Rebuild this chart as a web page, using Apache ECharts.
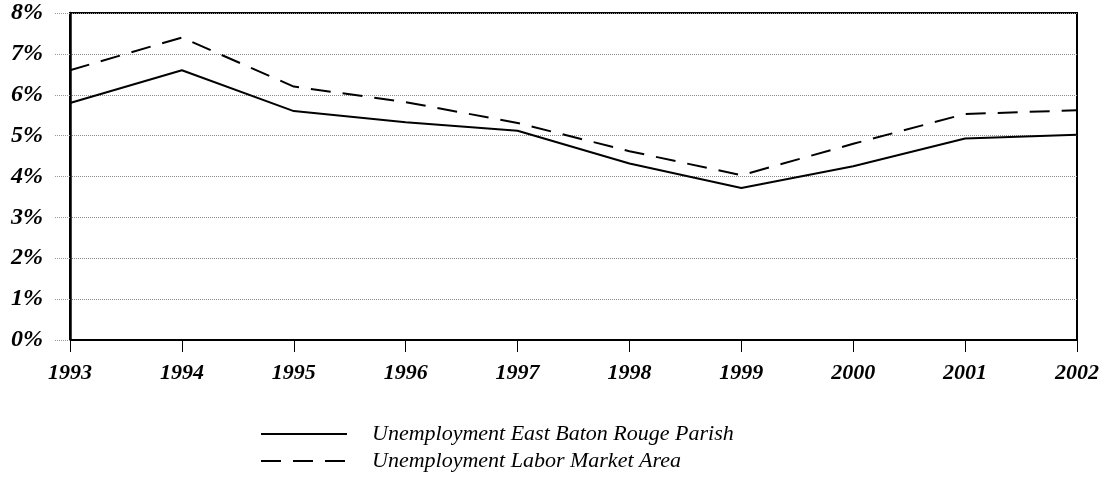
<!DOCTYPE html>
<html><head><meta charset="utf-8">
<script src="https://cdn.jsdelivr.net/npm/echarts@6/dist/echarts.min.js"></script>
<style>html,body{margin:0;padding:0;background:#fff}#c{width:1107px;height:483px}</style>
</head><body><div id="c"></div>
<script>
const years = ['1993','1994','1995','1996','1997','1998','1999','2000','2001','2002'];
const parish = [5.8, 6.6, 5.6, 5.33, 5.12, 4.32, 3.72, 4.25, 4.93, 5.02];
const labor = [6.6, 7.4, 6.2, 5.82, 5.31, 4.62, 4.03, 4.8, 5.53, 5.62];
const yTicks = [0,1,2,3,4,5,6,7,8];
const seriesNames = ['Unemployment East Baton Rouge Parish', 'Unemployment Labor Market Area'];

const chart = echarts.init(document.getElementById('c'));
const serif = '"Liberation Serif", "DejaVu Serif", serif';
chart.setOption({
  animation: false,
  backgroundColor: '#fff',
  grid: {left: 70, right: 30, top: 13, bottom: 143, show: true, borderColor: '#000', borderWidth: 2},
  xAxis: {
    type: 'category', data: years, boundaryGap: false,
    axisLine: {lineStyle: {color: '#000', width: 2}},
    axisTick: {show: true, length: 12, lineStyle: {color: '#000', width: 1}},
    axisLabel: {margin: 22, color: '#000', fontFamily: serif, fontWeight: 'bold', fontStyle: 'italic', fontSize: 22},
    splitLine: {show: false}
  },
  yAxis: {
    type: 'value', min: 0, max: 8, interval: 1,
    axisLine: {show: true, lineStyle: {color: '#000', width: 2.5}},
    axisTick: {show: true, length: 15, lineStyle: {color: '#999', type: 'dotted'}},
    axisLabel: {margin: 27, color: '#000', fontFamily: serif, fontWeight: 'bold', fontStyle: 'italic', fontSize: 24,
      formatter: v => v + '%'},
    splitLine: {show: true, lineStyle: {color: '#8a8a8a', type: 'dotted', width: 1}}
  },
  legend: {
    orient: 'vertical', left: 255, top: 418, itemGap: 5, itemWidth: 86, itemHeight: 22,
    data: seriesNames,
    itemStyle: {opacity: 0},
    textStyle: {color: '#000', fontFamily: serif, fontStyle: 'italic', fontSize: 22, padding: [0,0,0,20]}
  },
  series: [
    {name: seriesNames[0], type: 'line', data: parish, symbol: 'none', smooth: false,
     lineStyle: {color: '#000', width: 2, type: 'solid'}, itemStyle: {color: '#000'}},
    {name: seriesNames[1], type: 'line', data: labor, symbol: 'none', smooth: false,
     lineStyle: {color: '#000', width: 2, type: [20, 12]}, itemStyle: {color: '#000'}}
  ]
});
</script></body></html>
